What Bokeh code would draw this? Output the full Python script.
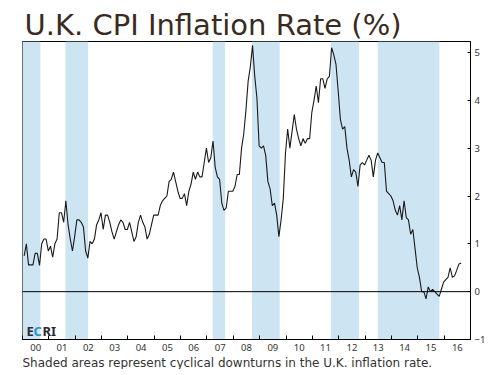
from bokeh.plotting import figure
from bokeh.models import FixedTicker, Span, BoxAnnotation, Label, Range1d, ColumnDataSource, Title
from bokeh.embed import file_html
from bokeh.resources import INLINE

# Monthly U.K. CPI inflation rate (%), Jan 2000 - Aug 2016
cpi_2000 = [0.75, 1.0, 0.56, 0.56, 0.56, 0.8, 0.8, 0.55, 1.0, 1.1, 1.1, 0.85]
cpi_2001 = [0.95, 0.72, 1.0, 1.1, 1.65, 1.65, 1.45, 1.9, 1.4, 1.1, 0.85, 1.15]
cpi_2002 = [1.5, 1.5, 1.45, 1.35, 0.85, 0.7, 1.05, 1.0, 1.1, 1.4, 1.5, 1.65]
cpi_2003 = [1.3, 1.6, 1.6, 1.45, 1.25, 1.1, 1.25, 1.4, 1.5, 1.45, 1.3, 1.3]
cpi_2004 = [1.45, 1.25, 1.05, 1.15, 1.45, 1.6, 1.45, 1.35, 1.1, 1.2, 1.4, 1.6]
cpi_2005 = [1.6, 1.6, 1.8, 1.9, 1.95, 2.0, 2.3, 2.35, 2.5, 2.3, 2.1, 1.95]
cpi_2006 = [1.95, 2.05, 1.8, 2.1, 2.25, 2.5, 2.35, 2.5, 2.4, 2.4, 2.7, 3.0]
cpi_2007 = [2.7, 2.8, 3.15, 2.6, 2.4, 2.35, 1.85, 1.7, 1.75, 2.1, 2.1, 2.1]
cpi_2008 = [2.2, 2.45, 2.45, 3.0, 3.3, 3.8, 4.4, 4.7, 5.15, 4.5, 4.05, 3.05]
cpi_2009 = [3.0, 3.05, 2.85, 2.3, 2.15, 1.8, 1.85, 1.6, 1.15, 1.5, 1.95, 2.9]
cpi_2010 = [3.4, 3.0, 3.35, 3.7, 3.4, 3.2, 3.05, 3.2, 3.1, 3.2, 3.2, 3.75]
cpi_2011 = [4.0, 4.3, 3.95, 4.45, 4.45, 4.25, 4.45, 4.5, 5.1, 4.95, 4.75, 4.2]
cpi_2012 = [3.6, 3.4, 3.45, 3.0, 2.75, 2.4, 2.55, 2.5, 2.2, 2.65, 2.7, 2.65]
cpi_2013 = [2.75, 2.85, 2.75, 2.4, 2.75, 2.9, 2.8, 2.7, 2.7, 2.1, 2.05, 2.0]
cpi_2014 = [1.9, 1.7, 1.6, 1.8, 1.5, 1.9, 1.55, 1.5, 1.2, 1.3, 0.9, 0.5]
cpi_2015 = [0.3, 0.0, 0.0, -0.15, 0.1, 0.0, 0.05, 0.0, -0.05, -0.1, 0.05, 0.2]
cpi_2016 = [0.25, 0.3, 0.5, 0.3, 0.33, 0.45, 0.58, 0.6]

years = list(range(2000, 2017))
series = [cpi_2000, cpi_2001, cpi_2002, cpi_2003, cpi_2004, cpi_2005, cpi_2006,
          cpi_2007, cpi_2008, cpi_2009, cpi_2010, cpi_2011, cpi_2012, cpi_2013,
          cpi_2014, cpi_2015, cpi_2016]

# Downturn periods (fractional years)
band_start = [1999.9, 2001.63, 2007.22, 2008.71, 2011.70, 2013.48]
band_end = [2000.68, 2002.49, 2007.69, 2009.76, 2012.77, 2015.82]

year_labels = ["00", "01", "02", "03", "04", "05", "06", "07", "08", "09",
               "10", "11", "12", "13", "14", "15", "16"]
y_ticks = [-1, 0, 1, 2, 3, 4, 5]

xs, ys = [], []
for yr, vals in zip(years, series):
    for m, v in enumerate(vals):
        xs.append(yr + (m + 0.75) / 12.0)
        ys.append(v)

FONT = "Noto Sans"
WIDE = "DejaVu Sans"
TXT = "#333333"

p = figure(frame_width=448, frame_height=298,
           x_range=Range1d(2000, 2017), y_range=Range1d(-1, 5.23),
           output_backend="svg", toolbar_location=None,
           y_axis_location="right",
           min_border_left=22, min_border_top=41, min_border_bottom=26,
           min_border_right=4)
p.background_fill_color = "white"
p.border_fill_color = "white"
p.outline_line_color = "black"
p.outline_line_width = 1
p.grid.visible = False

# Title
p.title.text = "U.K. CPI Inflation Rate (%)"
p.title.text_font = WIDE
p.title.text_font_size = "29px"
p.title.text_font_style = "normal"
p.title.text_color = "#3a2b22"
p.title.align = "left"
p.title.offset = 2
p.title.standoff = 0

for s, e in zip(band_start, band_end):
    p.add_layout(BoxAnnotation(left=s, right=e, fill_color="#cde4f2",
                               fill_alpha=1.0, line_color=None, level="underlay"))

p.add_layout(Span(location=0, dimension="width", line_color="black", line_width=1))

src = ColumnDataSource(dict(x=xs, y=ys))
p.line("x", "y", source=src, line_color="#1a1a1a", line_width=1.1)

# x axis: labels centred in each year, small inward ticks at year boundaries
xa = p.xaxis[0]
xa.ticker = FixedTicker(ticks=[y + 0.5 for y in years],
                        minor_ticks=years + [2017])
xa.major_label_overrides = {y + 0.5: lab for y, lab in zip(years, year_labels)}
xa.major_tick_line_color = None
xa.minor_tick_in = 4
xa.minor_tick_out = 0
xa.minor_tick_line_color = "black"
xa.axis_line_color = "black"
xa.major_label_text_font = FONT
xa.major_label_text_font_size = "9.5px"
xa.major_label_text_color = TXT
xa.major_label_standoff = -2

ya = p.yaxis[0]
ya.ticker = FixedTicker(ticks=y_ticks)
ya.minor_tick_line_color = None
ya.major_tick_in = 3
ya.major_tick_out = 0
ya.major_tick_line_color = "black"
ya.axis_line_color = "black"
ya.major_label_text_font = FONT
ya.major_label_text_font_size = "9.5px"
ya.major_label_text_color = TXT
ya.major_label_standoff = 4

# Caption
p.add_layout(Title(text="Shaded areas represent cyclical downturns in the U.K. inflation rate.",
                   text_font=WIDE, text_font_size="12px", text_font_style="normal",
                   text_color=TXT, align="left", offset=0, standoff=0), "below")

# ECRI logo
for t, xo, col in [("E", 4, "#2b2b33"), ("C", 11, "#2a8fd0"), ("RI", 20, "#2b2b33")]:
    p.add_layout(Label(x=xo, y=9, x_units="screen", y_units="screen", text=t,
                       text_font=FONT, text_font_size="13px", text_font_style="bold",
                       text_color=col, text_baseline="alphabetic"))

open("out.html", "w").write(file_html(p, INLINE))
